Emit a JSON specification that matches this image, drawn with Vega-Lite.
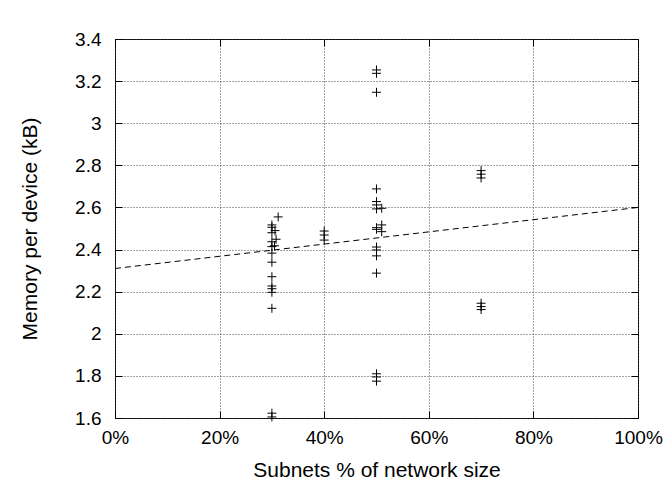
{
  "$schema": "https://vega.github.io/schema/vega-lite/v6.json",
  "autosize": "none",
  "width": 523,
  "height": 379,
  "padding": {"left": 115, "top": 39, "right": 32, "bottom": 79},
  "background": "white",
  "config": {
    "view": {"stroke": "black", "strokeWidth": 1},
    "font": "Liberation Sans",
    "axis": {
      "labelFont": "Liberation Sans",
      "titleFont": "Liberation Sans",
      "labelFontSize": 19,
      "titleFontSize": 21,
      "titleFontWeight": "normal",
      "labelColor": "black",
      "titleColor": "black",
      "labelFlush": false,
      "labelOverlap": false,
      "domain": false,
      "tickColor": "black",
      "tickSize": 7,
      "tickWidth": 1,
      "gridColor": "#444",
      "gridDash": [1, 2],
      "gridWidth": 1
    }
  },
  "datasets": {
    "pts": [
      {"x": 31.2, "y": 2.555}, {"x": 30, "y": 2.517}, {"x": 30, "y": 2.506}, {"x": 30.6, "y": 2.49},
      {"x": 30, "y": 2.48}, {"x": 30.8, "y": 2.449}, {"x": 30, "y": 2.437}, {"x": 30.5, "y": 2.418},
      {"x": 30, "y": 2.414}, {"x": 30, "y": 2.383}, {"x": 30, "y": 2.34}, {"x": 30, "y": 2.271},
      {"x": 30, "y": 2.227}, {"x": 30, "y": 2.214}, {"x": 30, "y": 2.197}, {"x": 30, "y": 2.121},
      {"x": 30, "y": 1.623}, {"x": 30, "y": 1.605},
      {"x": 40, "y": 2.488}, {"x": 40, "y": 2.469}, {"x": 40, "y": 2.445},
      {"x": 50, "y": 3.253}, {"x": 50, "y": 3.237}, {"x": 50, "y": 3.147}, {"x": 50, "y": 2.688},
      {"x": 50, "y": 2.628}, {"x": 50, "y": 2.612}, {"x": 51, "y": 2.596}, {"x": 50, "y": 2.593},
      {"x": 51, "y": 2.517}, {"x": 50, "y": 2.504}, {"x": 50, "y": 2.496}, {"x": 51, "y": 2.485},
      {"x": 50, "y": 2.412}, {"x": 50, "y": 2.398}, {"x": 50, "y": 2.37}, {"x": 50, "y": 2.288},
      {"x": 50, "y": 1.81}, {"x": 50, "y": 1.795}, {"x": 50, "y": 1.775},
      {"x": 70, "y": 2.775}, {"x": 70, "y": 2.758}, {"x": 70, "y": 2.74},
      {"x": 70, "y": 2.145}, {"x": 70, "y": 2.129}, {"x": 70, "y": 2.115}
    ],
    "fit": [
      {"x": 0, "y": 2.31},
      {"x": 100, "y": 2.60}
    ]
  },
  "layer": [
    {
      "data": {"name": "pts"},
      "mark": {"type": "point", "opacity": 0},
      "encoding": {
        "x": {
          "field": "x", "type": "quantitative",
          "scale": {"domain": [0, 100], "nice": false, "zero": false},
          "axis": {
            "orient": "bottom",
            "values": [0, 20, 40, 60, 80, 100],
            "labelExpr": "datum.value + '%'",
            "ticks": false,
            "grid": true,
            "labelPadding": 19,
            "labelBaseline": "middle",
            "title": "Subnets % of network size",
            "titleX": 261.5, "titleY": 52, "titleBaseline": "middle"
          }
        },
        "y": {
          "field": "y", "type": "quantitative",
          "scale": {"domain": [1.6, 3.4], "nice": false, "zero": false},
          "axis": {
            "orient": "left",
            "values": [1.6, 1.8, 2, 2.2, 2.4, 2.6, 2.8, 3, 3.2, 3.4],
            "format": "~g",
            "ticks": false,
            "grid": true,
            "labelPadding": 14,
            "title": "Memory per device (kB)",
            "titleX": -85, "titleY": 189.5, "titleBaseline": "middle", "titleAngle": -90
          }
        }
      }
    },
    {
      "data": {"name": "fit"},
      "mark": {"type": "line", "stroke": "black", "strokeWidth": 1, "strokeDash": [6, 4]},
      "encoding": {
        "x": {
          "field": "x", "type": "quantitative",
          "axis": {"orient": "top", "offset": -7, "values": [0, 20, 40, 60, 80, 100], "labels": false, "grid": false, "title": null}
        },
        "y": {
          "field": "y", "type": "quantitative",
          "axis": {"orient": "right", "offset": -7, "values": [1.6, 1.8, 2, 2.2, 2.4, 2.6, 2.8, 3, 3.2, 3.4], "labels": false, "grid": false, "title": null}
        }
      }
    },
    {
      "data": {"name": "pts"},
      "mark": {"type": "point", "shape": "M-1,0L1,0M0,-1L0,1", "filled": false, "stroke": "black", "strokeWidth": 1, "size": 80, "opacity": 1},
      "encoding": {
        "x": {
          "field": "x", "type": "quantitative",
          "axis": {"orient": "bottom", "offset": -7, "values": [0, 20, 40, 60, 80, 100], "labels": false, "grid": false, "title": null}
        },
        "y": {
          "field": "y", "type": "quantitative",
          "axis": {"orient": "left", "offset": -7, "values": [1.6, 1.8, 2, 2.2, 2.4, 2.6, 2.8, 3, 3.2, 3.4], "labels": false, "grid": false, "title": null}
        }
      }
    }
  ],
  "resolve": {"axis": {"x": "independent", "y": "independent"}}
}
